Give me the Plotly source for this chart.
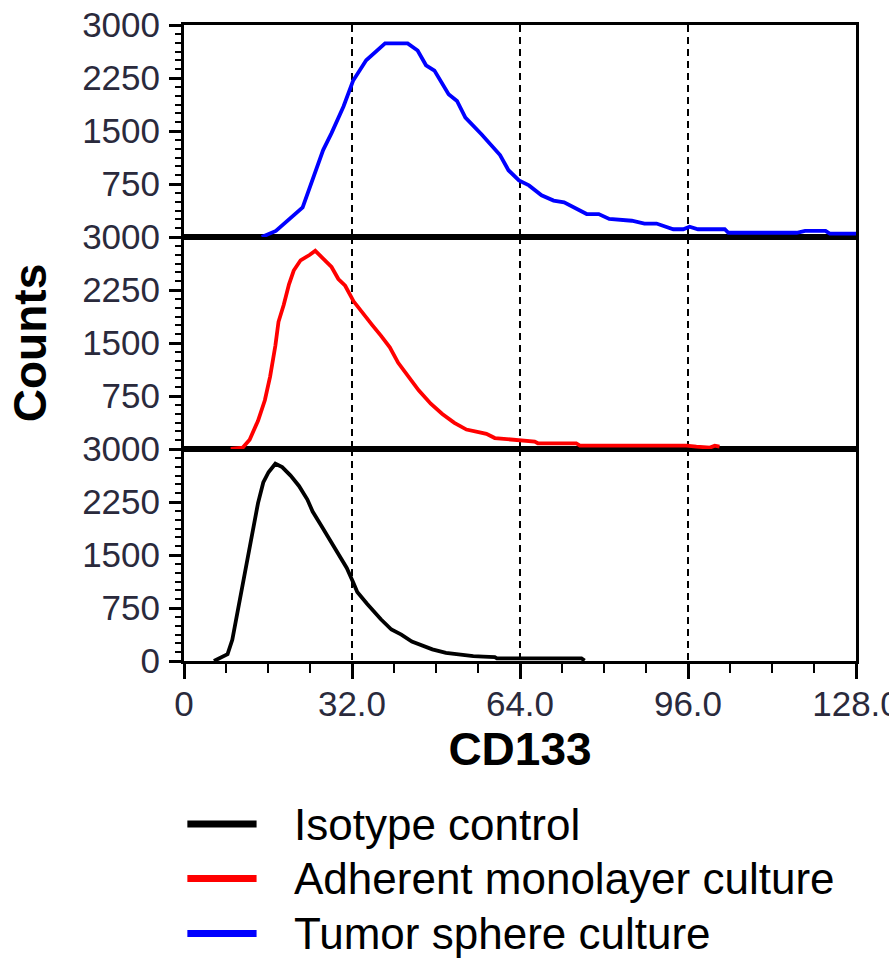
import plotly.graph_objects as go

# ---------------- data ----------------
series_names = ["Isotype control", "Adherent monolayer culture", "Tumor sphere culture"]
series_colors = ["#000000", "#ff0000", "#0000ff"]

iso_x = [5.7, 8.3, 9.2, 10.2, 11.2, 12.2, 13.1, 14.1, 15.1, 16.1, 17.4, 18.7, 20.3, 21.9,
         23.5, 24.5, 26.1, 27.8, 29.4, 31.0, 32.3, 33.0, 34.9, 37.5, 39.5, 41.4, 43.4, 45.3,
         47.3, 49.9, 53.1, 55.1, 57.0, 59.2, 59.6, 75.7, 76.3]
iso_y = [0, 97, 300, 687, 1123, 1461, 1848, 2235, 2526, 2671, 2792, 2744, 2623, 2477,
         2284, 2115, 1921, 1703, 1510, 1316, 1100, 977, 808, 590, 445, 373, 276, 227,
         165, 116, 82, 68, 62, 55, 38, 38, 5]

ad_x = [8.9, 11.2, 12.5, 14.1, 15.4, 16.4, 17.4, 18.0, 19.0, 20.0, 20.9, 22.2, 23.9, 25.0,
        26.5, 28.1, 29.4, 30.7, 32.3, 34.0, 35.9, 37.5, 39.2, 40.8, 42.7, 44.7, 47.0, 49.2,
        51.5, 53.8, 56.1, 57.6, 59.2, 62.7, 64.0, 66.8, 67.4, 74.7, 75.4, 95.7, 97.6, 100.2,
        101.1, 102.0]
ad_y = [0, 20, 130, 400, 690, 1025, 1460, 1800, 2040, 2330, 2525, 2670, 2745, 2805,
        2695, 2575, 2405, 2310, 2090, 1920, 1750, 1605, 1440, 1220, 1025, 830, 640, 495,
        370, 275, 240, 215, 155, 128, 118, 104, 81, 81, 47, 47, 33, 20,
        47, 33]

ts_x = [14.8, 17.5, 22.6, 24.5, 26.5, 28.1, 30.4, 32.2, 34.7, 38.3, 42.6, 44.5, 46.1, 47.7,
        50.4, 52.0, 53.6, 56.7, 60.2, 61.8, 63.8, 65.7, 68.1, 70.4, 72.4, 76.7, 79.0, 81.0,
        85.3, 87.7, 90.0, 93.2, 95.1, 96.3, 97.9, 103.0, 103.7, 116.7, 118.3, 122.2, 123.0, 128.0]
ts_y = [0, 86, 420, 800, 1230, 1470, 1850, 2210, 2500, 2740, 2740, 2640, 2430, 2355,
        2020, 1925, 1690, 1450, 1160, 945, 800, 730, 590, 515, 490, 325, 325, 255,
        230, 190, 190, 110, 110, 145, 110, 110, 60, 60, 86, 86, 48, 48]

x_tickvals = [0, 32, 64, 96, 128]
x_ticktext = ["0", "32.0", "64.0", "96.0", "128.0"]
y_tickvals_full = [0, 750, 1500, 2250, 3000]
y_tickvals_top = [750, 1500, 2250, 3000]

# ---------------- figure ----------------
FONT = "Liberation Sans, Arial, sans-serif"
TICKCOL = "#2a2a3c"

fig = go.Figure()

# panel order: y (top) = tumor sphere, y2 (middle) = adherent, y3 (bottom) = isotype
panels = [("y3", "x", iso_x, iso_y, 0), ("y2", "x2", ad_x, ad_y, 1), ("y", "x3", ts_x, ts_y, 2)]
for yref, xref, xs, ys, i in panels:
    fig.add_trace(go.Scatter(x=xs, y=ys, mode="lines", name=series_names[i],
                             line=dict(color=series_colors[i], width=3.8),
                             xaxis=xref, yaxis=yref, showlegend=False))

common_x = dict(range=[0, 128], showline=True, linecolor="black", linewidth=3, mirror=True,
                showgrid=True, gridcolor="black", gridwidth=2.2, griddash="7px,5px",
                tickmode="array", tickvals=x_tickvals, zeroline=False, automargin=False)
common_y = dict(range=[0, 3000], showline=True, linecolor="black", linewidth=3, mirror=True,
                showgrid=False, zeroline=False, automargin=False,
                tickmode="array", ticks="outside", ticklen=12, tickwidth=2.5, tickcolor="black",
                tickfont=dict(family=FONT, size=35, color=TICKCOL), ticklabelstandoff=2,
                minor=dict(tickmode="linear", tick0=0, dtick=125, ticks="outside",
                           ticklen=6, tickwidth=2, tickcolor="black"))

fig.update_layout(
    width=889, height=963,
    margin=dict(l=184, r=33, t=25, b=302),
    paper_bgcolor="white", plot_bgcolor="white",
    template="none",
    # bottom panel (with tick labels)
    xaxis=dict(common_x, domain=[0, 1], anchor="y3", ticks="outside", ticklen=15, tickwidth=2.5,
               tickcolor="black", ticktext=x_ticktext, ticklabeloverflow="allow",
               tickfont=dict(family=FONT, size=35, color=TICKCOL), ticklabelstandoff=-5,
               minor=dict(tickmode="linear", tick0=0, dtick=8, ticks="outside",
                          ticklen=9, tickwidth=2, tickcolor="black"),
               title=dict(text="CD133", font=dict(family=FONT, size=46, color="black", weight="bold"),
                          standoff=0)),
    xaxis2=dict(common_x, domain=[0, 1], anchor="y2", matches="x", showticklabels=False, ticks=""),
    xaxis3=dict(common_x, domain=[0, 1], anchor="y", matches="x", showticklabels=False, ticks=""),
    yaxis=dict(common_y, domain=[2/3, 1], anchor="x3", tickvals=y_tickvals_top),
    yaxis2=dict(common_y, domain=[1/3, 2/3], anchor="x2", tickvals=y_tickvals_top,
                title=dict(text="Counts", font=dict(family=FONT, size=46, color="black", weight="bold"),
                           standoff=22)),
    yaxis3=dict(common_y, domain=[0, 1/3], anchor="x", tickvals=y_tickvals_full),
)

# ---------------- manual legend ----------------
legend_order = [0, 1, 2]
row_y = [-0.2563, -0.3420, -0.4285]
for k, i in enumerate(legend_order):
    fig.add_shape(type="line", xref="paper", yref="paper", x0=0.005, x1=0.108,
                  y0=row_y[k], y1=row_y[k], line=dict(color=series_colors[i], width=7))
    fig.add_annotation(xref="paper", yref="paper", x=0.160, y=row_y[k], xanchor="left",
                       yanchor="middle", text=series_names[i], showarrow=False,
                       font=dict(family=FONT, size=44, color="black"))

fig.write_html("out.html", config={"displayModeBar": False},
               post_script="document.body.style.margin='0';document.body.style.overflow='hidden';")
